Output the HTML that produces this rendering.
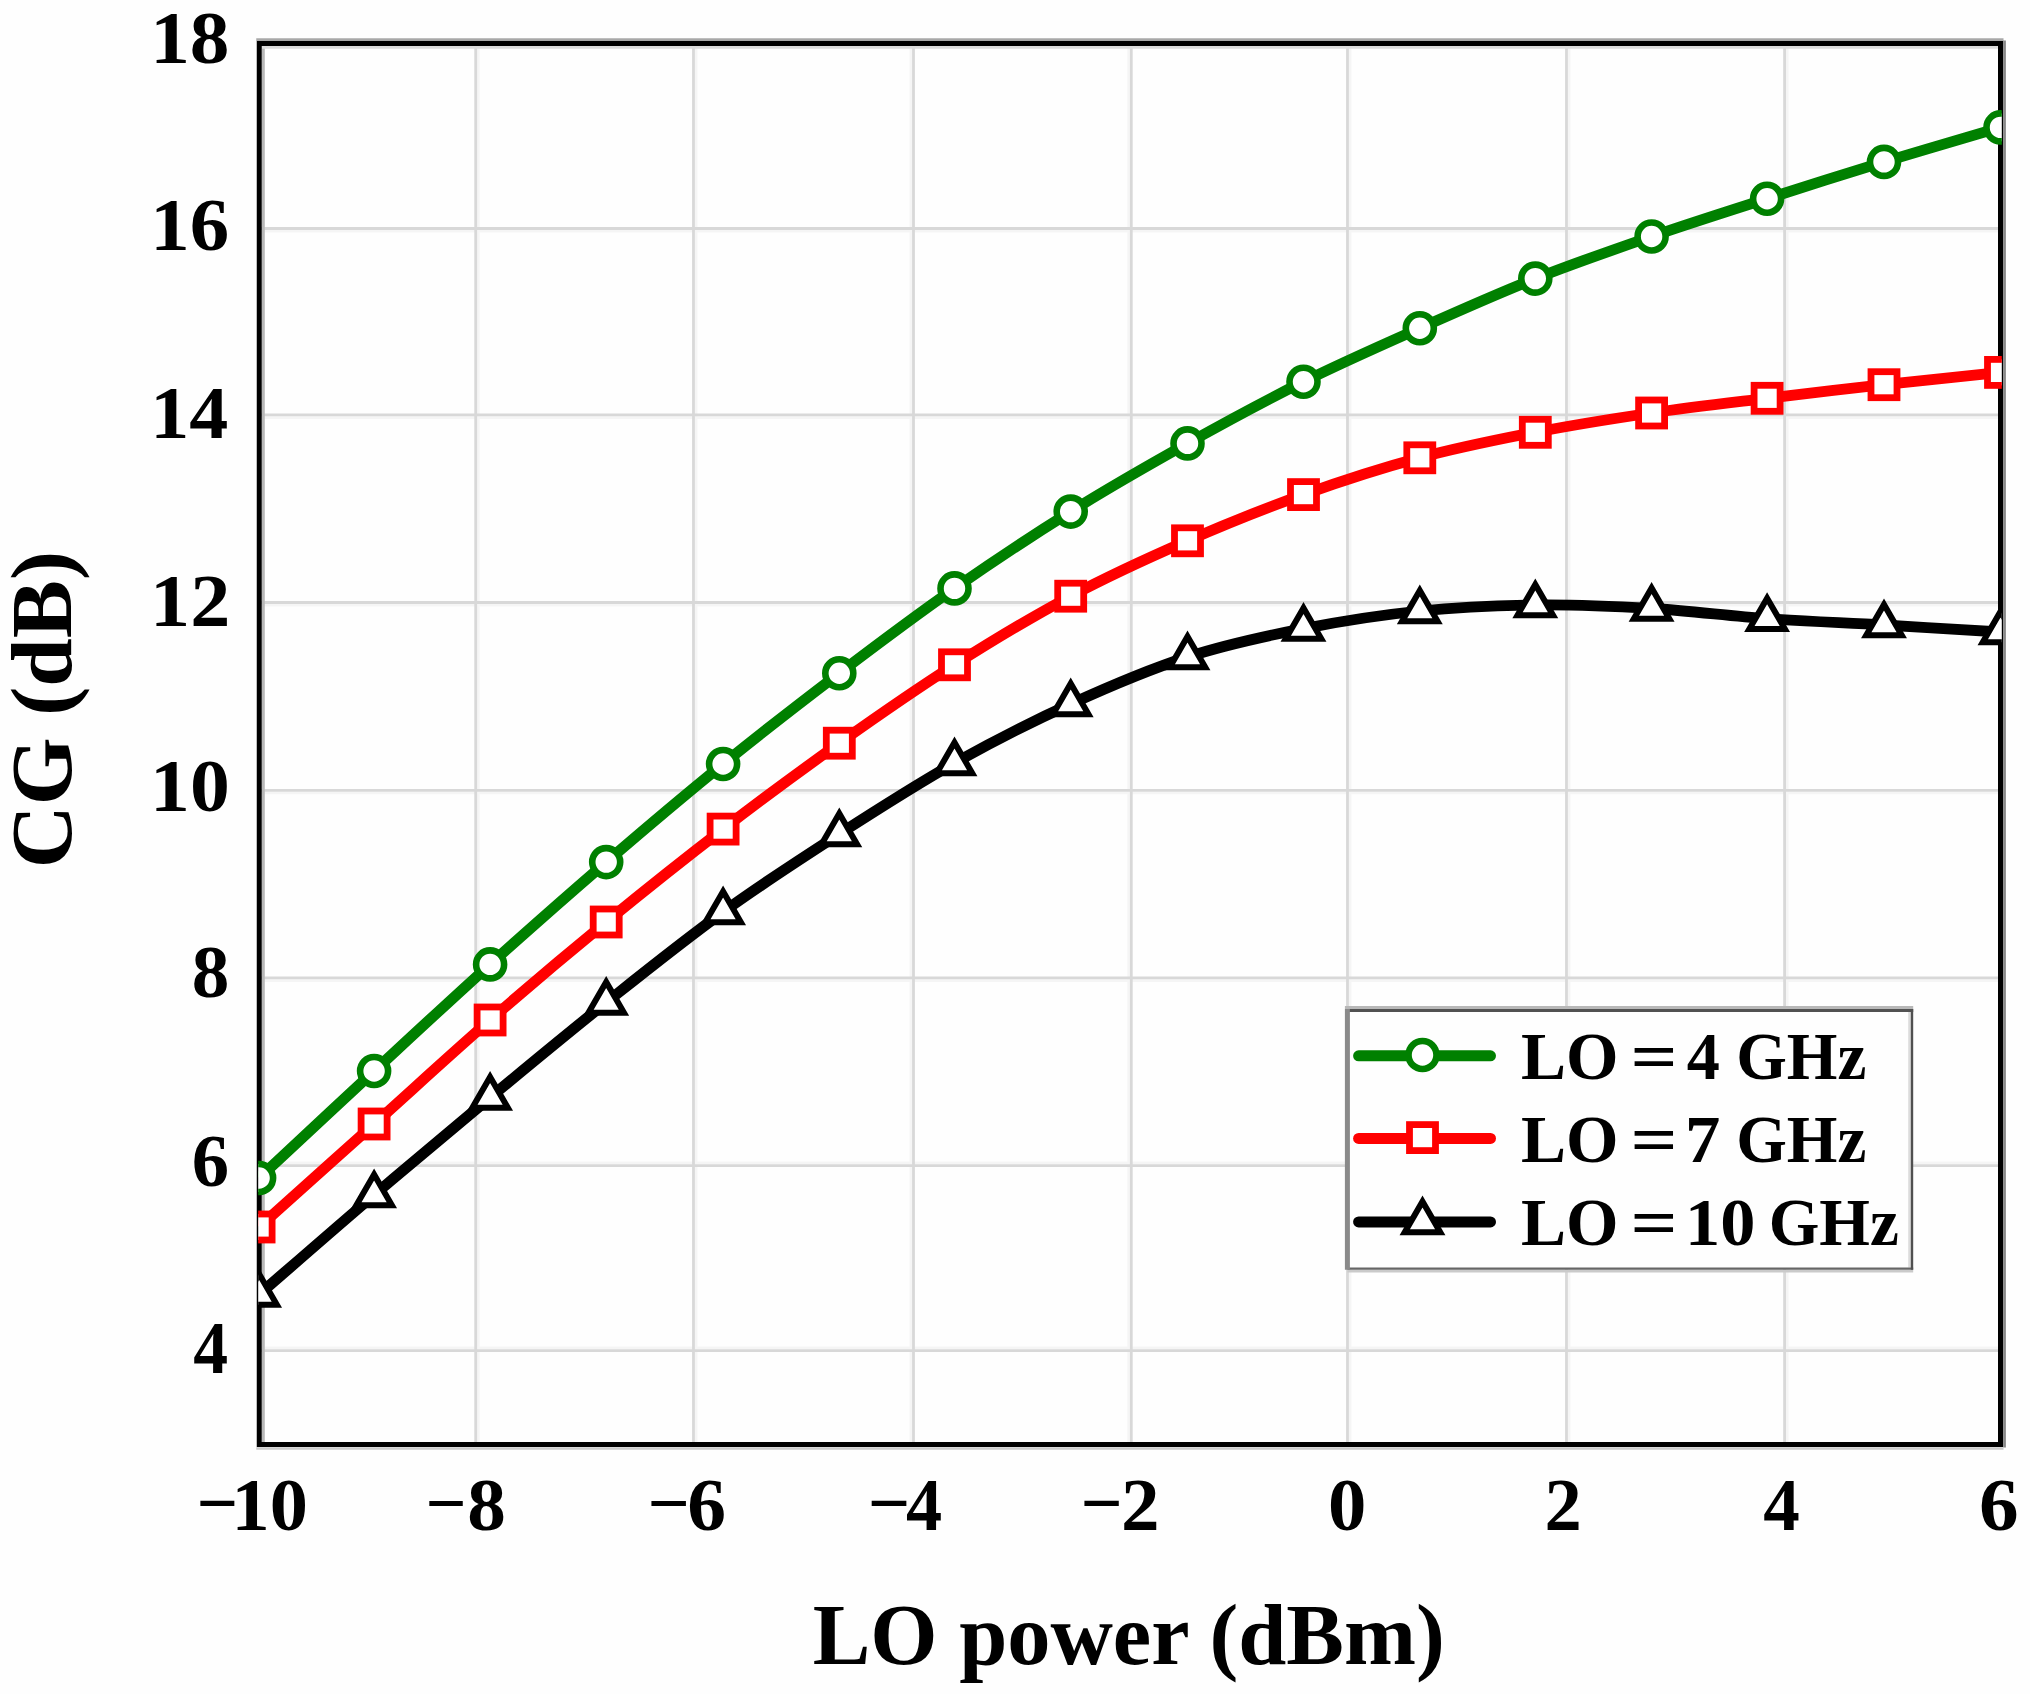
<!DOCTYPE html>
<html><head><meta charset="utf-8"><title>CG vs LO power</title>
<style>html,body{margin:0;padding:0;background:#fefefe;overflow:hidden}svg{display:block}</style>
</head><body>
<svg width="2030" height="1694" viewBox="0 0 2030 1694"><rect x="0" y="0" width="2030" height="1694" fill="#fefefe"/>
<g stroke="#f5f5f5" stroke-width="2.6"><line x1="478.40" y1="43.5" x2="478.40" y2="1444.5"/><line x1="696.20" y1="43.5" x2="696.20" y2="1444.5"/><line x1="910.80" y1="43.5" x2="910.80" y2="1444.5"/><line x1="1128.60" y1="43.5" x2="1128.60" y2="1444.5"/><line x1="1350.20" y1="43.5" x2="1350.20" y2="1444.5"/><line x1="1569.20" y1="43.5" x2="1569.20" y2="1444.5"/><line x1="1787.30" y1="43.5" x2="1787.30" y2="1444.5"/><line x1="259.2" y1="1347.90" x2="2000.5" y2="1347.90"/><line x1="259.2" y1="1162.90" x2="2000.5" y2="1162.90"/><line x1="259.2" y1="980.60" x2="2000.5" y2="980.60"/><line x1="259.2" y1="793.00" x2="2000.5" y2="793.00"/><line x1="259.2" y1="605.20" x2="2000.5" y2="605.20"/><line x1="259.2" y1="417.60" x2="2000.5" y2="417.60"/><line x1="259.2" y1="231.20" x2="2000.5" y2="231.20"/></g>
<g stroke="#d8d8d8" stroke-width="2.8"><line x1="475.70" y1="43.5" x2="475.70" y2="1444.5"/><line x1="693.50" y1="43.5" x2="693.50" y2="1444.5"/><line x1="913.50" y1="43.5" x2="913.50" y2="1444.5"/><line x1="1131.30" y1="43.5" x2="1131.30" y2="1444.5"/><line x1="1347.50" y1="43.5" x2="1347.50" y2="1444.5"/><line x1="1566.50" y1="43.5" x2="1566.50" y2="1444.5"/><line x1="1784.60" y1="43.5" x2="1784.60" y2="1444.5"/><line x1="259.2" y1="1350.60" x2="2000.5" y2="1350.60"/><line x1="259.2" y1="1165.60" x2="2000.5" y2="1165.60"/><line x1="259.2" y1="977.90" x2="2000.5" y2="977.90"/><line x1="259.2" y1="790.30" x2="2000.5" y2="790.30"/><line x1="259.2" y1="602.50" x2="2000.5" y2="602.50"/><line x1="259.2" y1="414.90" x2="2000.5" y2="414.90"/><line x1="259.2" y1="228.50" x2="2000.5" y2="228.50"/></g>
<g fill="none"><line x1="256.25" y1="39.7" x2="2003.5" y2="39.7" stroke="#a8a8a8" stroke-width="2.7"/><line x1="263.4" y1="43.5" x2="263.4" y2="1444.5" stroke="#b8b8b8" stroke-width="2.8"/><line x1="2004.5" y1="40.5" x2="2004.5" y2="1447.5" stroke="#888" stroke-width="2.8"/><line x1="256.25" y1="1448.5" x2="2003.5" y2="1448.5" stroke="#cacaca" stroke-width="2.7"/><line x1="259.25" y1="47.4" x2="2000.5" y2="47.4" stroke="#dcdcdc" stroke-width="2.6"/></g>
<rect x="259.25" y="43.5" width="1741.25" height="1401.00" fill="none" stroke="#000" stroke-width="5.0"/>
<defs><clipPath id="pc"><rect x="258.2" y="42.0" width="1743.60" height="1404.00"/></clipPath></defs>
<g clip-path="url(#pc)"><path d="M259.10,1294.50 C278.27,1277.92 335.60,1227.83 374.10,1195.00 C412.60,1162.17 451.42,1129.58 490.10,1097.50 C528.78,1065.42 567.37,1033.42 606.20,1002.50 C645.03,971.58 684.25,940.08 723.10,912.00 C761.95,883.92 800.73,858.83 839.30,834.00 C877.87,809.17 915.93,784.67 954.50,763.00 C993.07,741.33 1031.87,721.67 1070.70,704.00 C1109.53,686.33 1148.70,669.57 1187.50,657.00 C1226.30,644.43 1264.78,636.27 1303.50,628.60 C1342.22,620.93 1381.17,614.93 1419.80,611.00 C1458.43,607.07 1496.67,605.42 1535.30,605.00 C1573.93,604.58 1612.97,606.22 1651.60,608.50 C1690.23,610.78 1728.37,615.95 1767.10,618.70 C1805.83,621.45 1845.10,622.78 1884.00,625.00 C1922.90,627.22 1981.08,630.83 2000.50,632.00" fill="none" stroke="#000" stroke-width="10.8" stroke-linejoin="round"/><path d="M259.10,1227.00 C278.27,1209.83 335.60,1158.50 374.10,1124.00 C412.60,1089.50 451.42,1053.67 490.10,1020.00 C528.78,986.33 567.37,953.82 606.20,922.00 C645.03,890.18 684.25,858.90 723.10,829.10 C761.95,799.30 800.73,770.58 839.30,743.20 C877.87,715.82 915.93,689.30 954.50,664.80 C993.07,640.30 1031.87,616.87 1070.70,596.20 C1109.53,575.53 1148.70,557.73 1187.50,540.80 C1226.30,523.87 1264.78,508.43 1303.50,494.60 C1342.22,480.77 1381.17,468.18 1419.80,457.80 C1458.43,447.42 1496.67,439.77 1535.30,432.30 C1573.93,424.83 1612.97,418.67 1651.60,413.00 C1690.23,407.33 1728.37,403.02 1767.10,398.30 C1805.83,393.58 1845.10,389.02 1884.00,384.70 C1922.90,380.38 1981.08,374.45 2000.50,372.40" fill="none" stroke="#ff0000" stroke-width="10.8" stroke-linejoin="round"/><path d="M259.10,1178.00 C278.27,1160.17 335.60,1106.60 374.10,1071.00 C412.60,1035.40 451.42,999.22 490.10,964.40 C528.78,929.58 567.37,895.50 606.20,862.10 C645.03,828.70 684.25,795.48 723.10,764.00 C761.95,732.52 800.73,702.47 839.30,673.20 C877.87,643.93 915.93,615.33 954.50,588.40 C993.07,561.47 1031.87,535.77 1070.70,511.60 C1109.53,487.43 1148.70,465.05 1187.50,443.40 C1226.30,421.75 1264.78,400.90 1303.50,381.70 C1342.22,362.50 1381.17,345.38 1419.80,328.20 C1458.43,311.02 1496.67,293.88 1535.30,278.60 C1573.93,263.32 1612.97,249.82 1651.60,236.50 C1690.23,223.18 1728.37,211.13 1767.10,198.70 C1805.83,186.27 1845.10,173.78 1884.00,161.90 C1922.90,150.02 1981.08,133.15 2000.50,127.40" fill="none" stroke="#008000" stroke-width="10.8" stroke-linejoin="round"/><path d="M259.10,1274.00 L241.35,1304.75 L276.85,1304.75 Z" fill="#fff" stroke="#000" stroke-width="6.0" stroke-linejoin="miter"/><path d="M374.10,1174.50 L356.35,1205.25 L391.85,1205.25 Z" fill="#fff" stroke="#000" stroke-width="6.0" stroke-linejoin="miter"/><path d="M490.10,1077.00 L472.35,1107.75 L507.85,1107.75 Z" fill="#fff" stroke="#000" stroke-width="6.0" stroke-linejoin="miter"/><path d="M606.20,982.00 L588.45,1012.75 L623.95,1012.75 Z" fill="#fff" stroke="#000" stroke-width="6.0" stroke-linejoin="miter"/><path d="M723.10,891.50 L705.35,922.25 L740.85,922.25 Z" fill="#fff" stroke="#000" stroke-width="6.0" stroke-linejoin="miter"/><path d="M839.30,813.50 L821.55,844.25 L857.05,844.25 Z" fill="#fff" stroke="#000" stroke-width="6.0" stroke-linejoin="miter"/><path d="M954.50,742.50 L936.75,773.25 L972.25,773.25 Z" fill="#fff" stroke="#000" stroke-width="6.0" stroke-linejoin="miter"/><path d="M1070.70,683.50 L1052.95,714.25 L1088.45,714.25 Z" fill="#fff" stroke="#000" stroke-width="6.0" stroke-linejoin="miter"/><path d="M1187.50,636.50 L1169.75,667.25 L1205.25,667.25 Z" fill="#fff" stroke="#000" stroke-width="6.0" stroke-linejoin="miter"/><path d="M1303.50,608.10 L1285.75,638.85 L1321.25,638.85 Z" fill="#fff" stroke="#000" stroke-width="6.0" stroke-linejoin="miter"/><path d="M1419.80,590.50 L1402.05,621.25 L1437.55,621.25 Z" fill="#fff" stroke="#000" stroke-width="6.0" stroke-linejoin="miter"/><path d="M1535.30,584.50 L1517.55,615.25 L1553.05,615.25 Z" fill="#fff" stroke="#000" stroke-width="6.0" stroke-linejoin="miter"/><path d="M1651.60,588.00 L1633.85,618.75 L1669.35,618.75 Z" fill="#fff" stroke="#000" stroke-width="6.0" stroke-linejoin="miter"/><path d="M1767.10,598.20 L1749.35,628.95 L1784.85,628.95 Z" fill="#fff" stroke="#000" stroke-width="6.0" stroke-linejoin="miter"/><path d="M1884.00,604.50 L1866.25,635.25 L1901.75,635.25 Z" fill="#fff" stroke="#000" stroke-width="6.0" stroke-linejoin="miter"/><path d="M2000.50,611.50 L1982.75,642.25 L2018.25,642.25 Z" fill="#fff" stroke="#000" stroke-width="6.0" stroke-linejoin="miter"/><rect x="246.10" y="1214.00" width="26" height="26" fill="#fff" stroke="#ff0000" stroke-width="6.8"/><rect x="361.10" y="1111.00" width="26" height="26" fill="#fff" stroke="#ff0000" stroke-width="6.8"/><rect x="477.10" y="1007.00" width="26" height="26" fill="#fff" stroke="#ff0000" stroke-width="6.8"/><rect x="593.20" y="909.00" width="26" height="26" fill="#fff" stroke="#ff0000" stroke-width="6.8"/><rect x="710.10" y="816.10" width="26" height="26" fill="#fff" stroke="#ff0000" stroke-width="6.8"/><rect x="826.30" y="730.20" width="26" height="26" fill="#fff" stroke="#ff0000" stroke-width="6.8"/><rect x="941.50" y="651.80" width="26" height="26" fill="#fff" stroke="#ff0000" stroke-width="6.8"/><rect x="1057.70" y="583.20" width="26" height="26" fill="#fff" stroke="#ff0000" stroke-width="6.8"/><rect x="1174.50" y="527.80" width="26" height="26" fill="#fff" stroke="#ff0000" stroke-width="6.8"/><rect x="1290.50" y="481.60" width="26" height="26" fill="#fff" stroke="#ff0000" stroke-width="6.8"/><rect x="1406.80" y="444.80" width="26" height="26" fill="#fff" stroke="#ff0000" stroke-width="6.8"/><rect x="1522.30" y="419.30" width="26" height="26" fill="#fff" stroke="#ff0000" stroke-width="6.8"/><rect x="1638.60" y="400.00" width="26" height="26" fill="#fff" stroke="#ff0000" stroke-width="6.8"/><rect x="1754.10" y="385.30" width="26" height="26" fill="#fff" stroke="#ff0000" stroke-width="6.8"/><rect x="1871.00" y="371.70" width="26" height="26" fill="#fff" stroke="#ff0000" stroke-width="6.8"/><rect x="1987.50" y="359.40" width="26" height="26" fill="#fff" stroke="#ff0000" stroke-width="6.8"/><circle cx="259.10" cy="1178.00" r="14" fill="#fff" stroke="#008000" stroke-width="6.6"/><circle cx="374.10" cy="1071.00" r="14" fill="#fff" stroke="#008000" stroke-width="6.6"/><circle cx="490.10" cy="964.40" r="14" fill="#fff" stroke="#008000" stroke-width="6.6"/><circle cx="606.20" cy="862.10" r="14" fill="#fff" stroke="#008000" stroke-width="6.6"/><circle cx="723.10" cy="764.00" r="14" fill="#fff" stroke="#008000" stroke-width="6.6"/><circle cx="839.30" cy="673.20" r="14" fill="#fff" stroke="#008000" stroke-width="6.6"/><circle cx="954.50" cy="588.40" r="14" fill="#fff" stroke="#008000" stroke-width="6.6"/><circle cx="1070.70" cy="511.60" r="14" fill="#fff" stroke="#008000" stroke-width="6.6"/><circle cx="1187.50" cy="443.40" r="14" fill="#fff" stroke="#008000" stroke-width="6.6"/><circle cx="1303.50" cy="381.70" r="14" fill="#fff" stroke="#008000" stroke-width="6.6"/><circle cx="1419.80" cy="328.20" r="14" fill="#fff" stroke="#008000" stroke-width="6.6"/><circle cx="1535.30" cy="278.60" r="14" fill="#fff" stroke="#008000" stroke-width="6.6"/><circle cx="1651.60" cy="236.50" r="14" fill="#fff" stroke="#008000" stroke-width="6.6"/><circle cx="1767.10" cy="198.70" r="14" fill="#fff" stroke="#008000" stroke-width="6.6"/><circle cx="1884.00" cy="161.90" r="14" fill="#fff" stroke="#008000" stroke-width="6.6"/><circle cx="2000.50" cy="127.40" r="14" fill="#fff" stroke="#008000" stroke-width="6.6"/></g>
<rect x="1347.4" y="1010.45" width="564.6" height="258.2" fill="#fefefe"/>
<g fill="none"><line x1="1344.9" y1="1007.5" x2="1913.2" y2="1007.5" stroke="#b8b8b8" stroke-width="2.8"/><line x1="1347.4" y1="1271.2" x2="1913.2" y2="1271.2" stroke="#cacaca" stroke-width="2.8"/><line x1="1909.5" y1="1011.95" x2="1909.5" y2="1267.6000000000001" stroke="#dcdcdc" stroke-width="2.6"/><line x1="1347.4" y1="1010.45" x2="1913.2" y2="1010.45" stroke="#525252" stroke-width="3.1"/><line x1="1347.4" y1="1268.7" x2="1913.2" y2="1268.7" stroke="#666" stroke-width="2.2"/><line x1="1912.0" y1="1008.95" x2="1912.0" y2="1269.8" stroke="#505050" stroke-width="2.4"/><line x1="1347.4" y1="1008.95" x2="1347.4" y2="1269.8" stroke="#8a8a8a" stroke-width="5"/></g>
<line x1="1358.6" y1="1055.8" x2="1490.5" y2="1055.8" stroke="#008000" stroke-width="11" stroke-linecap="round"/>
<circle cx="1422.50" cy="1055.00" r="14" fill="#fff" stroke="#008000" stroke-width="6.6"/>
<line x1="1358.6" y1="1138.4" x2="1490.5" y2="1138.4" stroke="#ff0000" stroke-width="11" stroke-linecap="round"/>
<rect x="1409.50" y="1124.60" width="26" height="26" fill="#fff" stroke="#ff0000" stroke-width="6.8"/>
<line x1="1358.6" y1="1221.9" x2="1490.5" y2="1221.9" stroke="#000" stroke-width="11" stroke-linecap="round"/>
<path d="M1422.50,1201.40 L1404.75,1232.15 L1440.25,1232.15 Z" fill="#fff" stroke="#000" stroke-width="6.0" stroke-linejoin="miter"/>
<g font-family="'Liberation Serif', 'Times New Roman', serif" font-weight="bold" fill="#000"><text transform="translate(1520.95,1079.20) scale(1.0077,1)" font-size="67">LO</text><text transform="translate(1630.39,1079.20) scale(1.2330,1)" font-size="67">=</text><text transform="translate(1686.79,1079.20) scale(0.9891,1)" font-size="67">4</text><text transform="translate(1736.22,1079.20) scale(0.9720,1)" font-size="67">GHz</text><text transform="translate(1520.95,1162.00) scale(1.0077,1)" font-size="67">LO</text><text transform="translate(1630.39,1162.00) scale(1.2330,1)" font-size="67">=</text><text transform="translate(1685.06,1162.00) scale(1.0558,1)" font-size="67">7</text><text transform="translate(1736.22,1162.00) scale(0.9720,1)" font-size="67">GHz</text><text transform="translate(1520.95,1245.30) scale(1.0077,1)" font-size="67">LO</text><text transform="translate(1630.39,1245.30) scale(1.2330,1)" font-size="67">=</text><text transform="translate(1684.96,1245.30) scale(1.0511,1)" font-size="67">10</text><text transform="translate(1768.72,1245.30) scale(0.9720,1)" font-size="67">GHz</text><text transform="translate(196.44,1528.30) scale(0.9884,1)" font-size="74">−</text><text transform="translate(231.49,1529.80) scale(1.0313,1)" font-size="74">10</text><text transform="translate(425.60,1528.30) scale(0.9739,1)" font-size="74">−</text><text transform="translate(467.23,1529.80) scale(1.0441,1)" font-size="74">8</text><text transform="translate(647.39,1528.30) scale(1.0030,1)" font-size="74">−</text><text transform="translate(687.15,1529.80) scale(1.0494,1)" font-size="74">6</text><text transform="translate(867.66,1528.30) scale(1.0088,1)" font-size="74">−</text><text transform="translate(906.01,1529.80) scale(0.9764,1)" font-size="74">4</text><text transform="translate(1080.50,1528.30) scale(1.0000,1)" font-size="74">−</text><text transform="translate(1121.06,1529.80) scale(1.0419,1)" font-size="74">2</text><text transform="translate(1328.08,1529.80) scale(1.0362,1)" font-size="74">0</text><text transform="translate(1544.47,1529.80) scale(1.0061,1)" font-size="74">2</text><text transform="translate(1763.30,1529.80) scale(0.9880,1)" font-size="74">4</text><text transform="translate(1978.99,1529.80) scale(1.0711,1)" font-size="74">6</text><text transform="translate(150.15,62.80) scale(1.0714,1)" font-size="74">18</text><text transform="translate(150.18,249.90) scale(1.0667,1)" font-size="74">16</text><text transform="translate(150.25,437.80) scale(1.0540,1)" font-size="74">14</text><text transform="translate(150.08,625.80) scale(1.0833,1)" font-size="74">12</text><text transform="translate(150.12,810.60) scale(1.0773,1)" font-size="74">10</text><text transform="translate(191.70,997.20) scale(1.0160,1)" font-size="74">8</text><text transform="translate(191.65,1185.50) scale(1.0092,1)" font-size="74">6</text><text transform="translate(193.25,1373.20) scale(0.9418,1)" font-size="74">4</text><text transform="translate(812.72,1664.20) scale(0.9933,1)" font-size="87">LO power (dBm)</text><text transform="translate(70.5,868.26) rotate(-90) scale(1.0135,1)" font-size="86">CG (dB)</text></g></svg>
</body></html>
